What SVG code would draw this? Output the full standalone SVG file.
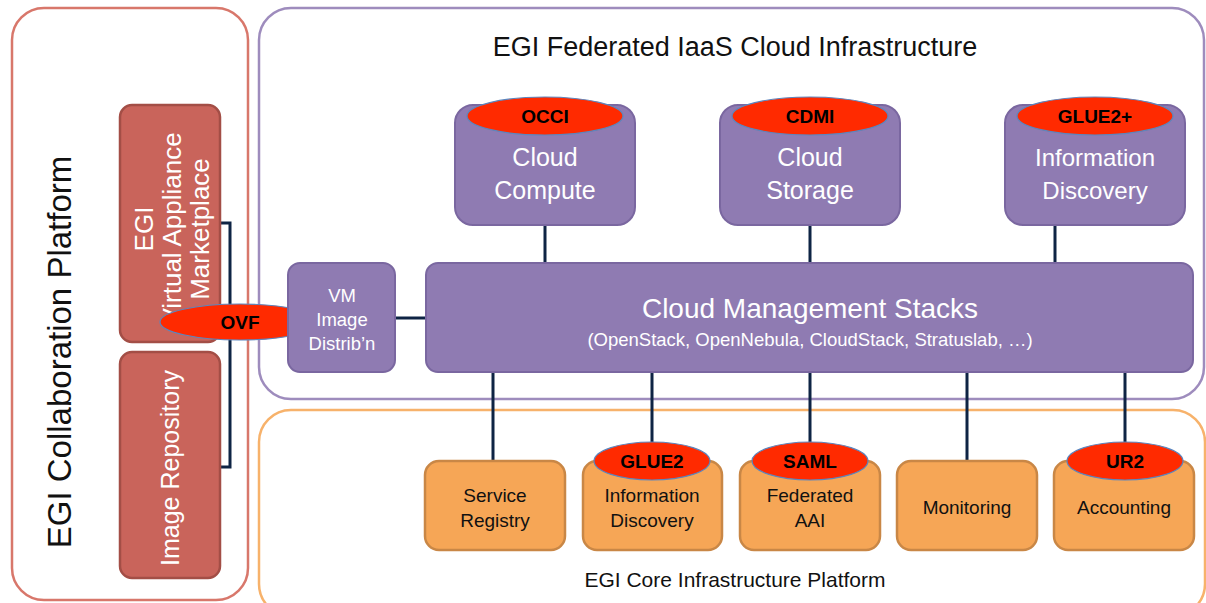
<svg xmlns="http://www.w3.org/2000/svg" width="1206" height="603" viewBox="0 0 1206 603">
<style>
text{font-family:"Liberation Sans","Open Sans",sans-serif;text-anchor:middle}
.frame{fill:#fff;stroke-width:2.5}
.red{fill:#c9645b;stroke:#a34e46;stroke-width:2.5}
.pur{fill:#8f7bb2;stroke:#7a67a0;stroke-width:2}
.org{fill:#f6a656;stroke:#c98746;stroke-width:2.5}
.ell{fill:#ff2a00;stroke:#5b86bf;stroke-width:1.2}
.lbl{font-weight:bold;font-size:19px;fill:#000}
.wt{fill:#fff}
.bk{fill:#111}
.con{stroke:#0e2444;stroke-width:3;fill:none}
</style>
<g id="collab-platform">
<rect class="frame" x="12" y="8" width="236" height="592" rx="32" stroke="#d8776b"/>
<text transform="translate(71,352) rotate(-90)" font-size="33" fill="#111">EGI Collaboration Platform</text>
</g>
<g id="iaas-cloud">
<rect class="frame" x="259" y="8" width="945" height="391" rx="32" stroke="#9e8cbd"/>
<text x="735" y="56" font-size="27" fill="#111">EGI Federated IaaS Cloud Infrastructure</text>
</g>
<g id="core-platform">
<rect class="frame" x="259" y="410" width="946" height="206" rx="32" stroke="#f7b26b"/>
<text x="735" y="587" font-size="21" fill="#111">EGI Core Infrastructure Platform</text>
</g>
<g id="connectors">
<path class="con" d="M220,223 H230 V467 H220"/>
<path class="con" d="M395,318 H426"/>
<path class="con" d="M545,225 V263 M810,225 V263 M1055,225 V263"/>
<path class="con" d="M493,372 V461 M652,372 V445 M810,372 V445 M967,372 V461 M1125,372 V445"/>
</g>
<g id="marketplace">
<rect class="red" x="120" y="105" width="100" height="237" rx="12"/>
<text class="wt" transform="translate(172,229) rotate(-90)" font-size="26"><tspan x="0" y="-19">EGI</tspan><tspan x="0" y="9">Virtual Appliance</tspan><tspan x="0" y="37">Marketplace</tspan></text>
</g>
<g id="image-repository">
<rect class="red" x="120" y="352" width="100" height="226" rx="12"/>
<text class="wt" transform="translate(170,468) rotate(-90)" font-size="25" y="9">Image Repository</text>
</g>
<g id="ovf">
<ellipse class="ell" cx="240" cy="322" rx="80" ry="18"/>
<text class="lbl" x="240" y="329">OVF</text>
</g>
<g id="vm-image-distrib">
<rect class="pur" x="288" y="263" width="107" height="109" rx="12"/>
<text class="wt" font-size="18.5"><tspan x="342" y="302">VM</tspan><tspan x="342" y="326">Image</tspan><tspan x="342" y="350">Distrib’n</tspan></text>
</g>
<g id="cloud-management-stacks">
<rect class="pur" x="426" y="263" width="767" height="109" rx="12"/>
<text class="wt" x="810" y="318" font-size="28">Cloud Management Stacks</text>
<text class="wt" x="810" y="346" font-size="18.5">(OpenStack, OpenNebula, CloudStack, Stratuslab, …)</text>
</g>
<g id="cloud-compute">
<rect class="pur" x="455" y="105" width="180" height="120" rx="18"/>
<ellipse class="ell" cx="545" cy="116" rx="78" ry="19"/>
<text class="lbl" x="545" y="123">OCCI</text>
<text class="wt" font-size="25"><tspan x="545" y="166">Cloud</tspan><tspan x="545" y="199">Compute</tspan></text>
</g>
<g id="cloud-storage">
<rect class="pur" x="720" y="105" width="180" height="120" rx="18"/>
<ellipse class="ell" cx="810" cy="116" rx="78" ry="19"/>
<text class="lbl" x="810" y="123">CDMI</text>
<text class="wt" font-size="25"><tspan x="810" y="166">Cloud</tspan><tspan x="810" y="199">Storage</tspan></text>
</g>
<g id="information-discovery-cloud">
<rect class="pur" x="1005" y="105" width="180" height="120" rx="18"/>
<ellipse class="ell" cx="1095" cy="116" rx="78" ry="19"/>
<text class="lbl" x="1095" y="123" font-size="20">GLUE2+</text>
<text class="wt" font-size="24"><tspan x="1095" y="166">Information</tspan><tspan x="1095" y="199">Discovery</tspan></text>
</g>
<g id="service-registry">
<rect class="org" x="425" y="461" width="140" height="89" rx="14"/>
<text class="bk" font-size="19"><tspan x="495" y="502">Service</tspan><tspan x="495" y="527">Registry</tspan></text>
</g>
<g id="information-discovery-core">
<rect class="org" x="583" y="461" width="139" height="89" rx="14"/>
<ellipse class="ell" cx="652" cy="461" rx="58" ry="19"/>
<text class="lbl" x="652" y="468">GLUE2</text>
<text class="bk" font-size="19"><tspan x="652" y="502">Information</tspan><tspan x="652" y="527">Discovery</tspan></text>
</g>
<g id="federated-aai">
<rect class="org" x="740" y="461" width="140" height="89" rx="14"/>
<ellipse class="ell" cx="810" cy="461" rx="58" ry="19"/>
<text class="lbl" x="810" y="468">SAML</text>
<text class="bk" font-size="19"><tspan x="810" y="502">Federated</tspan><tspan x="810" y="527">AAI</tspan></text>
</g>
<g id="monitoring">
<rect class="org" x="897" y="461" width="140" height="89" rx="14"/>
<text class="bk" font-size="19" x="967" y="514">Monitoring</text>
</g>
<g id="accounting">
<rect class="org" x="1054" y="461" width="140" height="89" rx="14"/>
<ellipse class="ell" cx="1125" cy="461" rx="58" ry="19"/>
<text class="lbl" x="1125" y="468">UR2</text>
<text class="bk" font-size="19" x="1124" y="514">Accounting</text>
</g>
</svg>
